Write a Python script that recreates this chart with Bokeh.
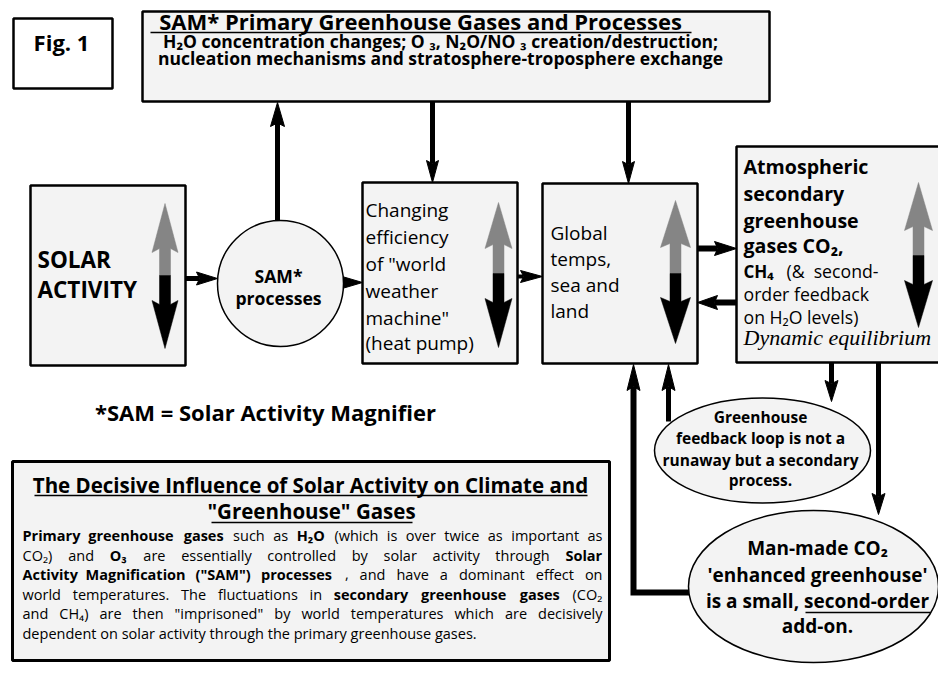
import math
from bokeh.plotting import figure
from bokeh.models import Range1d
from bokeh.core.properties import value
from bokeh.embed import file_html
from bokeh.resources import INLINE

SANS = "Open Sans"
SERIF = "Liberation Serif"
FILL = "#f3f3f3"
BASE_SHIFT = 0.37   # empirical: Bokeh places 'alphabetic' text slightly low

# ---------------- boxes (page pixel coordinates) ----------------
box_names = ["fig", "sam", "solar", "changing", "global", "atmos", "note"]
box_left = [13, 142, 30, 362, 542, 736, 12]
box_top = [18, 11, 185, 182, 183, 146, 461]
box_right = [112, 769, 185, 517, 697, 945, 609]
box_bottom = [88, 101, 365, 363, 363, 362, 660]
box_fill = ["white", FILL, FILL, FILL, FILL, FILL, FILL]
box_lw = [2.5, 2.5, 2.5, 2.5, 2.5, 2.5, 3]

# ---------------- ellipses ----------------
ell_names = ["sam_proc", "feedback", "manmade"]
ell_x = [280, 762, 813]
ell_y = [283, 450, 586]
ell_w = [126, 216, 250]
ell_h = [126, 105, 152]

# ---------------- arrows: start -> end, shaft width, head length, head width ----------------
arrow_x0 = [277, 432, 628, 185, 336, 517, 697, 736, 831, 878, 668]
arrow_y0 = [221, 101, 101, 278, 282, 276, 248, 302, 362, 362, 421]
arrow_x1 = [277, 432, 628, 217, 362, 542, 736, 697, 831, 878, 668]
arrow_y1 = [102, 182, 183, 278, 282, 276, 248, 302, 401, 514, 364]
arrow_w = [5, 5, 5, 5, 3, 4, 6, 6, 5, 5, 5]
arrow_hl = [24, 22, 22, 21, 22, 22, 22, 20, 21, 21, 26]
arrow_hw = [14, 12, 12, 13, 13, 12, 14, 14, 13, 13, 13]

# elbow arrow man-made -> global temps
elbow_x = [690, 633, 633]
elbow_y = [592, 592, 364]

# ---------------- up/down (grey up, black down) arrows ----------------
ud_cx = [164.5, 498, 675, 918]
ud_gray_tip = [203, 202, 200, 182]
ud_gray_base = [252, 248, 247, 230]
ud_mid = [275, 273, 273, 255]
ud_black_base = [300, 298, 297, 280]
ud_black_tip = [348, 347, 343, 327]
ud_shaft = [11, 11, 11, 11]
ud_head = [26, 27, 30, 28]

# ---------------- texts: x, baseline y, text, size, style, align, font ----------------
texts = [
    (61, 50, "Fig. 1", 22, "bold", "center", SANS),
    (420, 29, "SAM* Primary Greenhouse Gases and Processes", 22, "bold", "center", SANS),
    (440, 47, "H\u2082O concentration changes; O \u2083, N\u2082O/NO \u2083 creation/destruction;", 17.5, "bold", "center", SANS),
    (440, 64, "nucleation mechanisms and stratosphere-troposphere exchange", 17.5, "bold", "center", SANS),
    (37, 267, "SOLAR", 22.5, "bold", "left", SANS),
    (37, 297, "ACTIVITY", 22.5, "bold", "left", SANS),
    (278, 282, "SAM*", 17.6, "bold", "center", SANS),
    (278, 304, "processes", 17.6, "bold", "center", SANS),
    (365, 217, "Changing", 19, "normal", "left", SANS),
    (365, 244, "efficiency", 19, "normal", "left", SANS),
    (365, 271, "of \"world", 19, "normal", "left", SANS),
    (365, 298, "weather", 19, "normal", "left", SANS),
    (365, 325, "machine\"", 19, "normal", "left", SANS),
    (365, 350, "(heat pump)", 19, "normal", "left", SANS),
    (550, 240, "Global", 19, "normal", "left", SANS),
    (550, 266, "temps,", 19, "normal", "left", SANS),
    (550, 292, "sea and", 19, "normal", "left", SANS),
    (550, 318, "land", 19, "normal", "left", SANS),
    (743, 173, "Atmospheric", 19.6, "bold", "left", SANS),
    (743, 200, "secondary", 19.6, "bold", "left", SANS),
    (743, 227, "greenhouse", 19.6, "bold", "left", SANS),
    (743, 252, "gases CO\u2082,", 19.6, "bold", "left", SANS),
    (743, 277, "CH\u2084", 17, "bold", "left", SANS),
    (786, 277, "(&", 17.7, "normal", "left", SANS),
    (878, 277, "second-", 17.7, "normal", "right", SANS),
    (743, 300, "order feedback", 17.7, "normal", "left", SANS),
    (743, 323, "on H\u2082O levels)", 17.7, "normal", "left", SANS),
    (743, 345, "Dynamic equilibrium", 22, "italic", "left", SERIF),
    (265, 420, "*SAM = Solar Activity Magnifier", 22, "bold", "center", SANS),
    (760, 422, "Greenhouse", 15.5, "bold", "center", SANS),
    (760, 443, "feedback loop is not a", 15.5, "bold", "center", SANS),
    (760, 465, "runaway but a secondary", 15.5, "bold", "center", SANS),
    (760, 485, "process.", 15.5, "bold", "center", SANS),
    (817, 555, "Man-made CO\u2082", 19, "bold", "center", SANS),
    (817, 582, "'enhanced greenhouse'", 19, "bold", "center", SANS),
    (817, 608, "is a small, second-order", 19, "bold", "center", SANS),
    (817, 633, "add-on.", 19, "bold", "center", SANS),
    (310, 492, "The Decisive Influence of Solar Activity on Climate and", 20.5, "bold", "center", SANS),
    (311, 518, "\"Greenhouse\" Gases", 20.5, "bold", "center", SANS),
]

# body paragraph of the note box: words, "*" prefix marks bold
BODY = 14.5
BODY_LEFT, BODY_RIGHT = 22, 602
body_baselines = [540, 560, 579, 599, 618, 638]
body_lines = [
    "*Primary *greenhouse *gases such as *H\u2082O (which is over twice as important as",
    "CO\u2082) and *O\u2083 are essentially controlled by solar activity through *Solar",
    "*Activity *Magnification *(\"SAM\") *processes , and have a dominant effect on",
    "world temperatures. The fluctuations in *secondary *greenhouse *gases (CO\u2082",
    "and CH\u2084) are then \"imprisoned\" by world temperatures which are decisively",
    "dependent on solar activity through the primary greenhouse gases.",
]
body_justified = [True, True, True, True, True, False]

# underlines: x0, x1, y
ul_x0 = [150, 34, 211, 805]
ul_x1 = [691, 587, 412, 930]
ul_y = [32, 495, 522, 612]

# approximate Open Sans advance widths (em/1000) used only to justify the paragraph
CW = {' ': 260, '"': 401, '&': 700, "'": 235, '(': 296, ')': 296, ',': 245, '-': 322, '.': 266,
      'A': 633, 'C': 631, 'G': 728, 'H': 738, 'M': 903, 'O': 779, 'P': 601, 'S': 549, 'T': 553,
      'a': 556, 'b': 613, 'c': 480, 'd': 613, 'e': 561, 'f': 336, 'g': 546, 'h': 614, 'i': 252,
      'j': 252, 'k': 529, 'l': 252, 'm': 931, 'n': 614, 'o': 601, 'p': 613, 'q': 613, 'r': 409,
      's': 477, 't': 352, 'u': 614, 'v': 499, 'w': 775, 'x': 522, 'y': 500, 'z': 468,
      '\u2082': 360, '\u2083': 360, '\u2084': 360}


def est_width(word, bold, size):
    w = sum(CW.get(ch, 560) for ch in word) / 1000.0 * size
    return w * (1.08 if bold else 1.0)


# ---------------- figure ----------------
p = figure(width=938, height=675, x_range=Range1d(0, 938), y_range=Range1d(675, 0),
           output_backend="svg", toolbar_location=None, min_border=0)
p.axis.visible = False
p.grid.visible = False
p.outline_line_color = None
p.background_fill_color = "white"
p.border_fill_color = "white"


def head(x0, y0, x1, y1, L, W):
    dx, dy = x1 - x0, y1 - y0
    n = math.hypot(dx, dy)
    ux, uy = dx / n, dy / n
    px, py = -uy, ux
    bx, by = x1 - ux * L, y1 - uy * L
    nx, ny = x1 - ux * L * 0.85, y1 - uy * L * 0.85
    xs = [x1, bx + px * W / 2, nx, bx - px * W / 2]
    ys = [y1, by + py * W / 2, ny, by - py * W / 2]
    return xs, ys, nx, ny


# boxes
p.quad(left=box_left, right=box_right, top=box_top, bottom=box_bottom,
       fill_color=box_fill, line_color="black", line_width=box_lw)

# connecting arrows
hx, hy = [], []
sx0, sy0, sx1, sy1, sw = [], [], [], [], []
for i in range(len(arrow_x0)):
    xs, ys, nx, ny = head(arrow_x0[i], arrow_y0[i], arrow_x1[i], arrow_y1[i], arrow_hl[i], arrow_hw[i])
    hx.append(xs)
    hy.append(ys)
    sx0.append(arrow_x0[i]); sy0.append(arrow_y0[i]); sx1.append(nx); sy1.append(ny); sw.append(arrow_w[i])
p.segment(x0=sx0, y0=sy0, x1=sx1, y1=sy1, line_color="black", line_width=sw)

xs, ys, nx, ny = head(elbow_x[-2], elbow_y[-2], elbow_x[-1], elbow_y[-1], 26, 13)
p.line(x=elbow_x[:-1] + [nx], y=elbow_y[:-1] + [ny], line_color="black", line_width=6, line_join="miter")
hx.append(xs)
hy.append(ys)
p.patches(xs=hx, ys=hy, fill_color="black", line_color="black", line_width=1)

# ellipses
p.ellipse(x=ell_x, y=ell_y, width=ell_w, height=ell_h, fill_color=FILL,
          line_color="black", line_width=1.5)

# up/down arrows
gx, gy, kx, ky = [], [], [], []
for i in range(len(ud_cx)):
    c, s, h = ud_cx[i], ud_shaft[i] / 2, ud_head[i] / 2
    gx.append([c, c + h, c + s, c + s, c - s, c - s, c - h])
    gy.append([ud_gray_tip[i], ud_gray_base[i], ud_gray_base[i] - 4, ud_mid[i], ud_mid[i], ud_gray_base[i] - 4, ud_gray_base[i]])
    kx.append([c, c + h, c + s, c + s, c - s, c - s, c - h])
    ky.append([ud_black_tip[i], ud_black_base[i], ud_black_base[i] + 4, ud_mid[i], ud_mid[i], ud_black_base[i] + 4, ud_black_base[i]])
p.patches(xs=gx, ys=gy, fill_color="#858585", line_color="#858585", line_width=0.5)
p.patches(xs=kx, ys=ky, fill_color="black", line_color="black", line_width=0.5)


def put(x, y, t, size, style, align, font):
    p.text(x=[x], y=[y - BASE_SHIFT * size], text=[t], text_font=value(font),
           text_font_size=f"{size}px", text_font_style=style, text_align=align,
           text_baseline="alphabetic", text_color="black")


for (x, y, t, size, style, align, font) in texts:
    put(x, y, t, size, style, align, font)

# justified paragraph, placed word by word
wx, wy, wt, wb = [], [], [], []
for line, yb, just in zip(body_lines, body_baselines, body_justified):
    if not just:
        wx.append(BODY_LEFT); wy.append(yb); wt.append(line); wb.append(False)
        continue
    words = [(w[1:], True) if w.startswith("*") else (w, False) for w in line.split(" ")]
    widths = [est_width(w, b, BODY) for w, b in words]
    gap = (BODY_RIGHT - BODY_LEFT - sum(widths)) / (len(words) - 1)
    x = BODY_LEFT
    for (w, b), ww in zip(words, widths):
        wx.append(x); wy.append(yb); wt.append(w); wb.append(b)
        x += ww + gap
for x, y, t, b in zip(wx, wy, wt, wb):
    put(x, y, t, BODY, "bold" if b else "normal", "left", SANS)

p.segment(x0=ul_x0, y0=ul_y, x1=ul_x1, y1=ul_y, line_color="black", line_width=1.5)

open("out.html", "w").write(file_html(p, INLINE))
